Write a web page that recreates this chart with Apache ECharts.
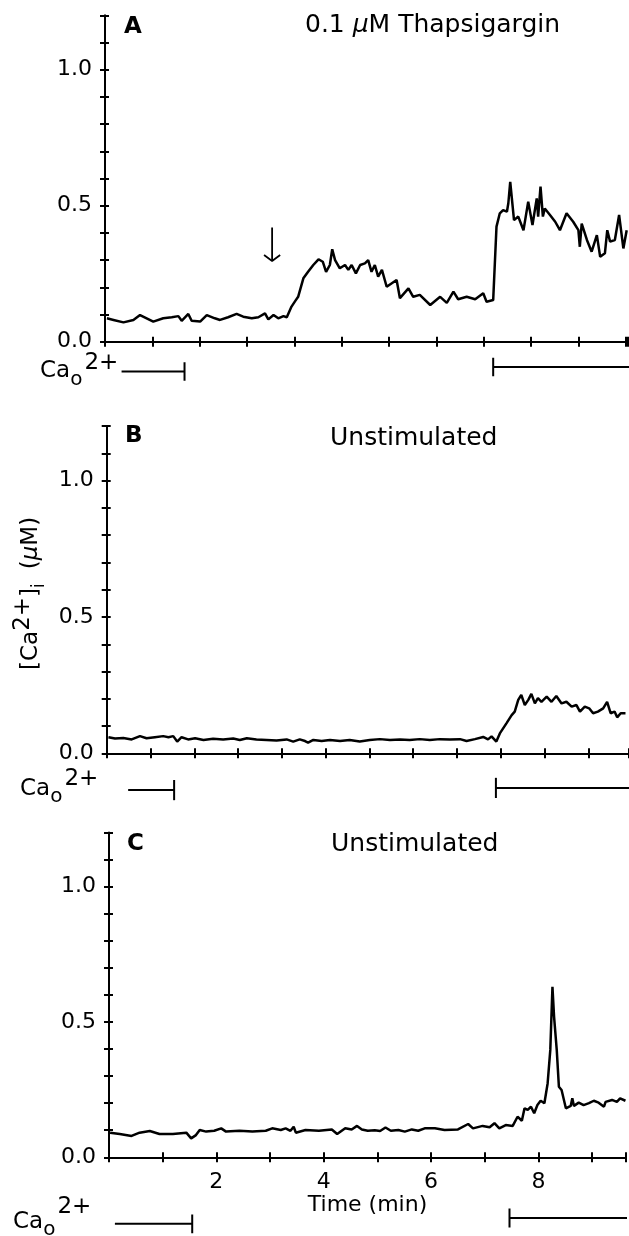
<!DOCTYPE html>
<html><head><meta charset="utf-8">
<script src="https://cdn.jsdelivr.net/npm/echarts@6/dist/echarts.min.js"></script>
<style>html,body{margin:0;padding:0;background:#fff}#c{width:629px;height:1236px}</style>
</head><body><div id="c"></div>
<script>
// ---------- DATA ----------
// Panel A: 0.1 uM Thapsigargin (time in min, [Ca2+]i in uM)
const timeA = [0.04,0.18,0.39,0.60,0.74,0.88,1.02,1.23,1.41,1.55,1.62,1.76,1.83,2.01,2.15,2.32,2.43,2.60,2.78,2.92,3.10,3.24,3.38,3.45,3.56,3.66,3.77,3.84,3.94,4.02,4.08,4.19,4.24,4.29,4.40,4.51,4.60,4.67,4.75,4.80,4.86,4.96,5.07,5.14,5.21,5.30,5.39,5.49,5.56,5.63,5.70,5.77,5.85,5.95,6.16,6.23,6.41,6.51,6.65,6.87,7.08,7.22,7.36,7.46,7.64,7.82,7.99,8.06,8.20,8.27,8.34,8.41,8.49,8.52,8.56,8.60,8.64,8.73,8.84,8.94,9.03,9.12,9.15,9.20,9.25,9.29,9.40,9.51,9.61,9.75,9.89,10.00,10.03,10.07,10.18,10.28,10.39,10.46,10.56,10.61,10.67,10.77,10.86,10.95,11.02];
const valA = [0.086,0.080,0.071,0.080,0.098,0.086,0.074,0.086,0.090,0.094,0.077,0.102,0.077,0.074,0.098,0.086,0.080,0.090,0.102,0.092,0.086,0.090,0.104,0.082,0.098,0.086,0.094,0.090,0.129,0.150,0.165,0.233,0.245,0.257,0.282,0.303,0.294,0.257,0.282,0.340,0.300,0.270,0.282,0.264,0.282,0.251,0.282,0.288,0.300,0.257,0.282,0.239,0.264,0.202,0.227,0.160,0.196,0.165,0.172,0.135,0.165,0.143,0.184,0.156,0.165,0.156,0.178,0.147,0.153,0.423,0.472,0.484,0.478,0.509,0.588,0.582,0.447,0.460,0.410,0.515,0.429,0.527,0.460,0.570,0.460,0.490,0.466,0.441,0.410,0.472,0.441,0.410,0.349,0.434,0.374,0.331,0.392,0.312,0.325,0.410,0.368,0.374,0.466,0.343,0.410];
// Panel B: Unstimulated
const timeB = [0.04,0.19,0.38,0.57,0.76,0.91,1.10,1.29,1.41,1.52,1.61,1.71,1.86,2.02,2.21,2.43,2.66,2.89,3.04,3.20,3.42,3.65,3.88,4.11,4.26,4.41,4.53,4.60,4.72,4.91,5.10,5.33,5.55,5.78,6.01,6.24,6.47,6.70,6.92,7.15,7.38,7.61,7.84,8.07,8.22,8.41,8.60,8.71,8.79,8.90,8.98,9.13,9.25,9.32,9.40,9.47,9.55,9.63,9.70,9.78,9.85,9.93,10.05,10.16,10.27,10.39,10.50,10.62,10.73,10.81,10.92,11.02,11.11,11.22,11.34,11.43,11.51,11.60,11.66,11.74,11.85];
const valB = [0.059,0.054,0.056,0.051,0.063,0.055,0.059,0.063,0.059,0.063,0.043,0.059,0.051,0.055,0.049,0.053,0.051,0.054,0.049,0.055,0.051,0.049,0.047,0.051,0.043,0.051,0.045,0.039,0.049,0.045,0.049,0.045,0.049,0.043,0.049,0.052,0.049,0.051,0.049,0.052,0.049,0.052,0.051,0.052,0.045,0.052,0.060,0.051,0.062,0.043,0.073,0.110,0.140,0.153,0.196,0.214,0.177,0.196,0.218,0.183,0.202,0.189,0.208,0.189,0.210,0.183,0.189,0.171,0.177,0.153,0.171,0.165,0.147,0.153,0.165,0.189,0.147,0.153,0.132,0.147,0.147];
// Panel C: Unstimulated
const timeC = [0.02,0.20,0.42,0.57,0.76,0.94,1.19,1.44,1.53,1.62,1.69,1.81,1.96,2.09,2.18,2.43,2.67,2.92,3.04,3.20,3.29,3.38,3.44,3.48,3.66,3.91,4.15,4.25,4.40,4.52,4.62,4.71,4.82,4.95,5.05,5.15,5.25,5.39,5.51,5.64,5.76,5.88,6.07,6.25,6.50,6.69,6.78,6.96,7.09,7.18,7.27,7.39,7.52,7.61,7.69,7.74,7.80,7.86,7.92,7.98,8.04,8.11,8.17,8.22,8.26,8.29,8.34,8.38,8.43,8.51,8.60,8.63,8.66,8.75,8.84,8.94,9.03,9.12,9.22,9.25,9.37,9.46,9.52,9.62];
const valC = [0.091,0.086,0.079,0.091,0.097,0.086,0.086,0.091,0.070,0.082,0.101,0.095,0.098,0.107,0.095,0.098,0.095,0.098,0.107,0.101,0.107,0.098,0.113,0.091,0.101,0.098,0.103,0.086,0.107,0.103,0.116,0.103,0.098,0.100,0.097,0.110,0.098,0.101,0.095,0.103,0.098,0.107,0.107,0.101,0.103,0.123,0.107,0.116,0.111,0.126,0.107,0.119,0.116,0.150,0.135,0.181,0.175,0.187,0.163,0.193,0.209,0.200,0.273,0.397,0.630,0.520,0.397,0.261,0.249,0.181,0.190,0.218,0.190,0.202,0.193,0.200,0.209,0.202,0.187,0.205,0.212,0.205,0.218,0.209];
// Extracellular Ca2+ present intervals (min): [start, end]
const caA = [[0.35, 1.68], [8.20, 11.3]];
const caB = [[0.49, 1.54], [8.89, 12.3]];
const caC = [[0.11, 1.55], [7.46, 9.8]];
// Thapsigargin addition (min)
const thapsTime = 3.53;
// Tick labels
const yTickLabels = {0: '0.0', 0.5: '0.5', 1: '1.0'};
const xTickLabelsC = [2, 4, 6, 8];
const panelLetters = ['A', 'B', 'C'];
const panelTitles = ['0.1 μM Thapsigargin', 'Unstimulated', 'Unstimulated'];

// ---------- LAYOUT ----------
const FONT = '"DejaVu Sans", sans-serif';
const panels = [
  {t: timeA, v: valA, ca: caA, grid: {left: 105, top: 15.3, width: 523.1, height: 326.4}, xmax: 11.05, caY: [-0.11, -0.093], caH: 0.034},
  {t: timeB, v: valB, ca: caB, grid: {left: 106.7, top: 426.2, width: 522.5, height: 327.1}, xmax: 11.93, caY: [-0.135, -0.127], caH: 0.037},
  {t: timeC, v: valC, ca: caC, grid: {left: 109, top: 832.6, width: 520, height: 324.7}, xmax: 9.63, caY: [-0.246, -0.224], caH: 0.035}
];

const ctx = document.createElement('canvas').getContext('2d');
function fontOf(p) { return (p.italic ? 'italic ' : '') + (p.bold ? 'bold ' : '') + p.size + 'px ' + FONT; }
function tw(p) { ctx.font = fontOf(p); return ctx.measureText(p.t).width; }
function textRun(x, y, parts, rotation) {
  let cx = 0; const children = [];
  parts.forEach(p => {
    children.push({type: 'text', x: cx, y: p.dy || 0, style: {text: p.t,
      font: fontOf(p), fill: '#000', align: 'left', verticalAlign: 'middle'}});
    cx += tw(p) + (p.gap || 0);
  });
  return {type: 'group', x: x, y: y, rotation: rotation || 0, children: children};
}

const blk = {color: '#000', width: 2};
const grids = [], xAxes = [], yAxes = [], series = [];
panels.forEach((p, i) => {
  grids.push(Object.assign({containLabel: false}, p.grid));
  const isC = i === 2;
  // main x axis (outside ticks) + twin (inside ticks) -> crossing ticks
  xAxes.push({gridIndex: i, type: 'value', min: 0, max: p.xmax, interval: 1, position: 'bottom',
    axisLine: {show: true, onZero: false, lineStyle: blk}, axisTick: {show: true, length: 5, lineStyle: blk},
    splitLine: {show: false},
    axisLabel: {show: isC, margin: 14, color: '#000', fontSize: 22, fontFamily: FONT,
      formatter: v => xTickLabelsC.indexOf(Math.round(v)) >= 0 && Math.abs(v - Math.round(v)) < 1e-6 ? String(Math.round(v)) : ''},
    name: isC ? 'Time (min)' : '', nameLocation: 'middle', nameGap: 36,
    nameTextStyle: {color: '#000', fontSize: 22, fontFamily: FONT}});
  xAxes.push({gridIndex: i, type: 'value', min: 0, max: p.xmax, interval: 1, position: 'bottom',
    axisLine: {show: false, onZero: false}, axisTick: {show: true, inside: true, length: 5, lineStyle: blk},
    splitLine: {show: false}, axisLabel: {show: false}});
  yAxes.push({gridIndex: i, type: 'value', min: 0, max: 1.2, interval: 0.1, position: 'left',
    axisLine: {show: true, onZero: false, lineStyle: blk}, axisTick: {show: true, length: 5, lineStyle: blk},
    splitLine: {show: false},
    axisLabel: {margin: 13, color: '#000', fontSize: 22, fontFamily: FONT,
      formatter: v => { for (const k in yTickLabels) { if (Math.abs(v - Number(k)) < 1e-6) return yTickLabels[k]; } return ''; }}});
  yAxes.push({gridIndex: i, type: 'value', min: 0, max: 1.2, interval: 0.1, position: 'left',
    axisLine: {show: false, onZero: false}, axisTick: {show: true, inside: true, length: 4, lineStyle: blk},
    splitLine: {show: false}, axisLabel: {show: false}});
  const xi = i * 2, yi = i * 2;
  series.push({type: 'line', xAxisIndex: xi, yAxisIndex: yi, data: p.t.map((t, k) => [t, p.v[k]]),
    showSymbol: false, symbol: 'none', lineStyle: {color: '#000', width: 2.5}, silent: true, animation: false});
  // Ca bars (drawn below axis through the same scales)
  p.ca.forEach((bar, j) => {
    const yb = p.caY[j];
    const tk = j === 0 ? bar[1] : bar[0];
    const lineS = d => ({type: 'line', xAxisIndex: xi, yAxisIndex: yi, data: d, clip: false, showSymbol: false,
      symbol: 'none', lineStyle: {color: '#000', width: 2}, silent: true, animation: false});
    series.push(lineS([[bar[0], yb], [bar[1], yb]]));
    series.push(lineS([[tk, yb + p.caH], [tk, yb - p.caH]]));
  });
});
// thapsigargin arrow in panel A
const arrowS = d => ({type: 'line', xAxisIndex: 0, yAxisIndex: 0, data: d, showSymbol: false, symbol: 'none',
  lineStyle: {color: '#000', width: 1.8}, silent: true, animation: false});
series.push(arrowS([[thapsTime, 0.42], [thapsTime, 0.297]]));
series.push(arrowS([[thapsTime - 0.17, 0.319], [thapsTime, 0.297], [thapsTime + 0.17, 0.319]]));

// text graphics
const graphics = [];
const letterPos = [[124, 27], [125, 436], [127, 844]];
panelLetters.forEach((L, i) => graphics.push(textRun(letterPos[i][0], letterPos[i][1], [{t: L, size: 23, bold: true}])));
graphics.push(textRun(305, 25, [{t: '0.1 ', size: 25}, {t: 'μ', size: 25, italic: true}, {t: 'M Thapsigargin', size: 25}]));
graphics.push(textRun(330, 438, [{t: panelTitles[1], size: 25}]));
graphics.push(textRun(331, 844, [{t: panelTitles[2], size: 25}]));
// Ca_o 2+ labels
const caLab = (x, y, dySub, dySup) => textRun(x, y, [{t: 'Ca', size: 23}, {t: 'o', size: 20, dy: dySub, gap: 2}, {t: '2+', size: 23, dy: dySup}]);
graphics.push(caLab(40, 371, 9, -8));
graphics.push(caLab(20, 789, 8, -10));
graphics.push(caLab(13, 1222, 8, -15));
// y axis name (rotated)
graphics.push(textRun(31, 670, [{t: '[Ca', size: 23}, {t: '2+', size: 23, dy: -8}, {t: ']', size: 23}, {t: 'i', size: 17, dy: 9, gap: 14},
  {t: '(', size: 23}, {t: 'μ', size: 23, italic: true}, {t: 'M)', size: 23}], Math.PI / 2));

const chart = echarts.init(document.getElementById('c'), null, {renderer: 'canvas'});
chart.setOption({animation: false, backgroundColor: '#fff', grid: grids, xAxis: xAxes, yAxis: yAxes, series: series, graphic: graphics});
</script></body></html>
